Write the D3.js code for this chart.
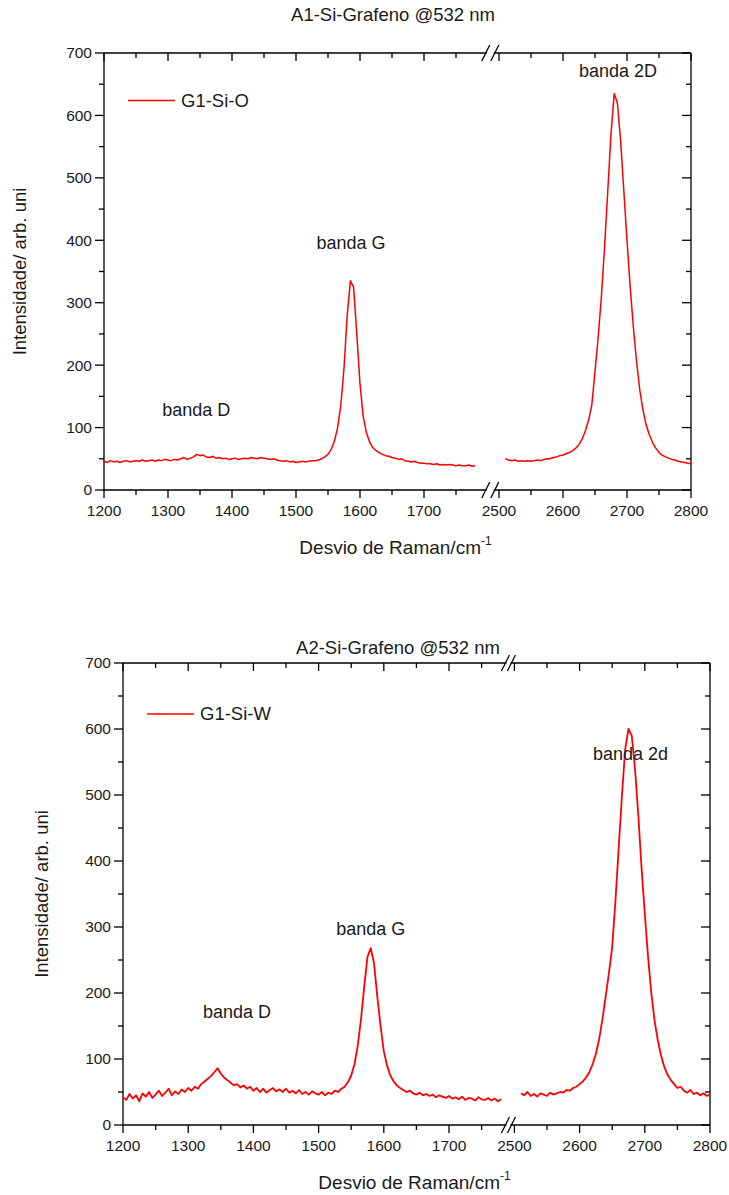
<!DOCTYPE html>
<html>
<head>
<meta charset="utf-8">
<script src="https://cdn.jsdelivr.net/npm/d3@7"></script>
<style>
  body { margin: 0; background: #fff; }
  svg { display: block; }
  text { font-family: Arial, "Liberation Sans", sans-serif; fill: #1a1a1a; }
</style>
</head>
<body>
<svg width="729" height="1195"></svg>
<script>
// Raman spectra, sampled every 5 cm-1
const step = 5;
const leftStart = 1200;   // first point of the left segment
const rightStart = 2510;  // first point of the right segment (after the break)

const xTicks = [1200, 1300, 1400, 1500, 1600, 1700, 2500, 2600, 2700, 2800];
const xMinor = [1250, 1350, 1450, 1550, 1650, 1750, 2550, 2650, 2750];
const yTicks = [0, 100, 200, 300, 400, 500, 600, 700];
const yMinor = [50, 150, 250, 350, 450, 550, 650];

// A1 - G1-Si-O
const a1Left = [
  46,44,47,45,46,44,46,47,45,46,47,46,48,46,47,48,46,48,47,49,
  48,47,49,48,50,52,49,51,53,57,55,56,53,52,54,51,52,50,51,49,
  50,51,49,50,51,50,52,51,50,52,51,50,49,50,48,47,46,47,45,46,
  44,45,46,45,46,47,47,48,50,53,57,65,78,100,135,195,280,335,325,250,
  170,118,92,77,68,63,60,57,55,54,52,51,49,50,47,46,45,46,44,43,
  43,42,42,41,42,40,41,40,41,40,39,40,39,39,40,38,39
];
const a1Right = [
  50,48,47,48,46,47,46,47,
  46,47,48,47,49,50,50,52,53,55,
  56,58,60,63,67,73,82,95,112,136,
  190,245,310,390,480,570,635,620,560,480,
  400,325,260,205,160,128,104,88,76,67,
  60,56,53,51,49,48,46,45,44,43,
  42
];

// A2 - G1-Si-W
const a2Left = [
  42,38,47,40,45,36,48,43,50,41,46,52,44,49,55,45,51,47,54,50,
  56,52,58,55,62,66,70,74,80,86,78,72,68,64,60,62,57,60,55,58,
  52,56,50,55,49,53,56,51,54,50,55,49,52,48,53,47,50,46,51,48,
  46,50,45,49,47,52,50,55,58,65,75,92,120,160,210,255,268,245,195,150,
  112,90,75,66,60,56,53,50,52,48,46,49,45,47,44,46,42,45,43,41,
  44,40,42,39,43,38,41,40,37,42,39,38,41,37,40,36,39
];
const a2Right = [
  48,45,50,44,47,43,48,46,
  44,49,46,48,50,49,53,52,56,58,
  62,66,72,80,92,108,130,160,195,230,
  270,340,420,500,570,600,590,540,470,390,
  320,255,200,158,128,105,88,76,68,62,
  56,58,52,49,53,47,49,45,48,44,
  46
];

const charts = [
  {
    title: "A1-Si-Grafeno @532 nm", titleX: 393, titleY: 21,
    legend: "G1-Si-O",
    left: 104, right: 691, top: 53, bottom: 490,
    xDomain: [1200, 1795, 2495, 2800], gap: 11,
    yLabelX: 26, lw: 1.5,
    seg: [a1Left, a1Right],
    notes: [["banda D", 1344, 128], ["banda G", 1586, 396], ["banda 2D", 2686, 671]]
  },
  {
    title: "A2-Si-Grafeno @532 nm", titleX: 398, titleY: 654,
    legend: "G1-Si-W",
    left: 123, right: 710, top: 663, bottom: 1125,
    xDomain: [1200, 1785, 2497, 2800], gap: 8,
    yLabelX: 48, lw: 1.8,
    seg: [a2Left, a2Right],
    notes: [["banda D", 1375, 171], ["banda G", 1580, 298], ["banda 2d", 2678, 562]]
  }
];

const svg = d3.select("svg");
const red = "#ff0000";

charts.forEach(c => {
  const w = c.right - c.left;
  const h = c.bottom - c.top;
  const leftW = (w - c.gap) * (c.xDomain[1] - c.xDomain[0]) /
    ((c.xDomain[1] - c.xDomain[0]) + (c.xDomain[3] - c.xDomain[2]));

  const x = d3.scaleLinear()
    .domain(c.xDomain)
    .range([0, leftW, leftW + c.gap, w]);
  const y = d3.scaleLinear().domain([0, 700]).range([h, 0]);

  const g = svg.append("g").attr("transform", `translate(${c.left},${c.top})`);

  // frame: top and bottom lines split at the break
  [0, h].forEach(yy => {
    g.append("line").attr("x1", 0).attr("x2", leftW + 2).attr("y1", yy).attr("y2", yy)
      .attr("stroke", "#000").attr("stroke-width", 1.3);
    g.append("line").attr("x1", leftW + c.gap - 2).attr("x2", w).attr("y1", yy).attr("y2", yy)
      .attr("stroke", "#000").attr("stroke-width", 1.3);
    // break marks
    [leftW + 1, leftW + c.gap - 1].forEach(bx => {
      g.append("line")
        .attr("x1", bx - 4).attr("y1", yy + 8)
        .attr("x2", bx + 4).attr("y2", yy - 8)
        .attr("stroke", "#000").attr("stroke-width", 1.3);
    });
  });
  g.append("line").attr("x1", 0).attr("x2", 0).attr("y1", 0).attr("y2", h)
    .attr("stroke", "#000").attr("stroke-width", 1.3);
  g.append("line").attr("x1", w).attr("x2", w).attr("y1", 0).attr("y2", h)
    .attr("stroke", "#000").attr("stroke-width", 1.3);

  // x ticks: outward at the bottom, inward at the top
  const xAxis = g.append("g").attr("transform", `translate(0,${h})`);
  xAxis.selectAll("line.maj").data(xTicks).join("line")
    .attr("x1", d => x(d)).attr("x2", d => x(d)).attr("y1", 0).attr("y2", 8)
    .attr("stroke", "#000").attr("stroke-width", 1.3);
  xAxis.selectAll("line.min").data(xMinor).join("line")
    .attr("x1", d => x(d)).attr("x2", d => x(d)).attr("y1", 0).attr("y2", 5)
    .attr("stroke", "#000").attr("stroke-width", 1.3);
  xAxis.selectAll("text").data(xTicks).join("text")
    .attr("x", d => x(d)).attr("y", 26)
    .attr("text-anchor", "middle").attr("font-size", 15.5)
    .text(d => d);

  g.selectAll("line.topt").data(xTicks.concat(xMinor)).join("line")
    .attr("x1", d => x(d)).attr("x2", d => x(d))
    .attr("y1", 0).attr("y2", d => xTicks.includes(d) ? 8 : 5)
    .attr("stroke", "#000").attr("stroke-width", 1.3);

  // y ticks: outward on the left, inward on the right
  g.selectAll("line.yl").data(yTicks.concat(yMinor)).join("line")
    .attr("x1", d => yTicks.includes(d) ? -9 : -5).attr("x2", 0)
    .attr("y1", d => y(d)).attr("y2", d => y(d))
    .attr("stroke", "#000").attr("stroke-width", 1.3);
  g.selectAll("line.yr").data(yTicks.concat(yMinor)).join("line")
    .attr("x1", d => w - (yTicks.includes(d) ? 9 : 5)).attr("x2", w)
    .attr("y1", d => y(d)).attr("y2", d => y(d))
    .attr("stroke", "#000").attr("stroke-width", 1.3);
  g.selectAll("text.yt").data(yTicks).join("text")
    .attr("x", -12).attr("y", d => y(d)).attr("dy", "0.35em")
    .attr("text-anchor", "end").attr("font-size", 15.5)
    .text(d => d);

  // spectra
  const line = d3.line().x(d => x(d[0])).y(d => y(d[1]));
  [[leftStart, c.seg[0]], [rightStart, c.seg[1]]].forEach(([x0, vals]) => {
    const pts = vals.map((v, i) => [x0 + i * step, v]);
    g.append("path").datum(pts).attr("d", line)
      .attr("fill", "none").attr("stroke", red).attr("stroke-width", c.lw)
      .attr("stroke-linejoin", "round");
  });

  // legend
  g.append("line").attr("x1", 24).attr("x2", 71).attr("y1", y(600) - 15).attr("y2", y(600) - 15)
    .attr("stroke", red).attr("stroke-width", 1.5);
  g.append("text").attr("x", 77).attr("y", y(600) - 15).attr("dy", "0.35em")
    .attr("font-size", 18.5).text(c.legend);

  // band labels
  g.selectAll("text.note").data(c.notes).join("text")
    .attr("x", d => x(d[1])).attr("y", d => y(d[2])).attr("dy", "0.35em")
    .attr("text-anchor", "middle").attr("font-size", 18)
    .text(d => d[0]);

  // titles
  svg.append("text").attr("x", c.titleX).attr("y", c.titleY)
    .attr("text-anchor", "middle").attr("font-size", 18.5).text(c.title);

  const xt = svg.append("text").attr("x", c.left + w / 2 - 2).attr("y", c.bottom + 64)
    .attr("text-anchor", "middle").attr("font-size", 19);
  xt.append("tspan").text("Desvio de Raman/cm");
  xt.append("tspan").attr("font-size", 12).attr("dy", -9).text("-1");

  svg.append("text")
    .attr("transform", `translate(${c.yLabelX},${c.top + h / 2}) rotate(-90)`)
    .attr("text-anchor", "middle").attr("font-size", 18.5)
    .text("Intensidade/ arb. uni");
});
</script>
</body>
</html>
